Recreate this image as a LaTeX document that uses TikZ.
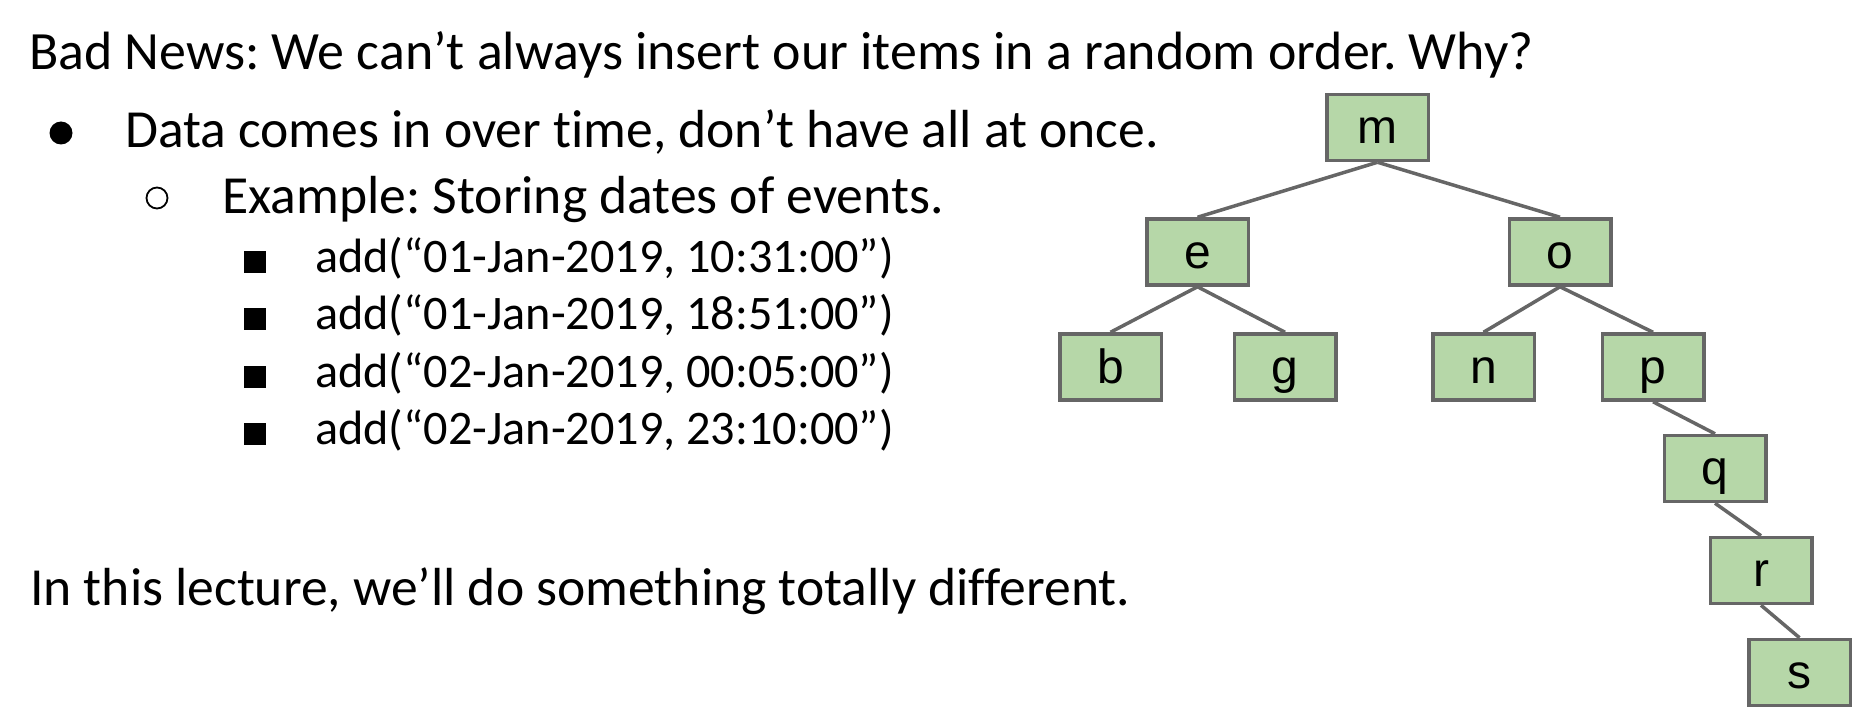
\documentclass[tikz,border=0pt]{standalone}
\usepackage{fontspec}
\setmainfont{Carlito}[Ligatures=NoCommon]
\newfontfamily\boxfont{Liberation Sans}
\definecolor{leafgreen}{HTML}{B6D7A8}
\definecolor{edgegray}{HTML}{666666}
\frenchspacing
\begin{document}
\begin{tikzpicture}[x=1pt,y=-1pt,
  maintext/.style={anchor=base west,inner sep=0pt,font=\fontsize{53.6}{64}\selectfont},
  subtext/.style={anchor=base west,inner sep=0pt,font=\fontsize{48.2}{57}\selectfont},
  keybox/.style={draw=edgegray,line width=3.5pt,fill=leafgreen,inner sep=0pt,
    minimum width=101.5pt,minimum height=66pt,text height=36pt,text depth=4pt,
    font=\boxfont\fontsize{48}{56}\selectfont},
  link/.style={draw=edgegray,line width=3.5pt}]
\useasboundingbox (0,0) rectangle (1865,714);

% slide text
\node[maintext,font=\fontsize{53.9}{64}\selectfont] (title) at (29,70) {Bad News: We can’t always insert our items in a random order. Why?};
\node[circle,fill=black,inner sep=0pt,minimum size=23pt] (b1) at (61,133) {};
\node[maintext] (l1) at (125,148) {Data comes in over time, don’t have all at once.};
\node[circle,draw=black,line width=1.8pt,inner sep=0pt,minimum size=21pt] (b2) at (157,198) {};
\node[maintext] (l2) at (222,213) {Example: Storing dates of events.};
\foreach \y/\t [count=\i] in {272/{add(“01-Jan-2019, 10:31:00”)},
                  329/{add(“01-Jan-2019, 18:51:00”)},
                  387/{add(“02-Jan-2019, 00:05:00”)},
                  444/{add(“02-Jan-2019, 23:10:00”)}}{
  \node[fill=black,inner sep=0pt,minimum size=22pt] (sq\i) at (254.5,\y-10.5) {};
  \node[subtext] (add\i) at (315,\y) {\t};
}
\node[maintext] (last) at (30,605) {In this lecture, we’ll do something totally different.};

% search tree
\node[keybox] (m) at (1377.5,127.5) {m};
\node[keybox] (e) at (1197.5,252) {e};
\node[keybox] (o) at (1560,252) {o};
\node[keybox] (b) at (1110.5,367) {b};
\node[keybox] (g) at (1285,367) {g};
\node[keybox] (n) at (1483.5,367) {n};
\node[keybox] (p) at (1653,367) {p};
\node[keybox] (q) at (1715,468.5) {q};
\node[keybox] (r) at (1761,570.5) {r};
\node[keybox] (s) at (1799.5,672.5) {s};

\foreach \a/\b in {m/e,m/o,e/b,e/g,o/n,o/p,p/q,q/r,r/s}
  \draw[link] (\a.south) -- (\b.north);
\end{tikzpicture}
\end{document}
